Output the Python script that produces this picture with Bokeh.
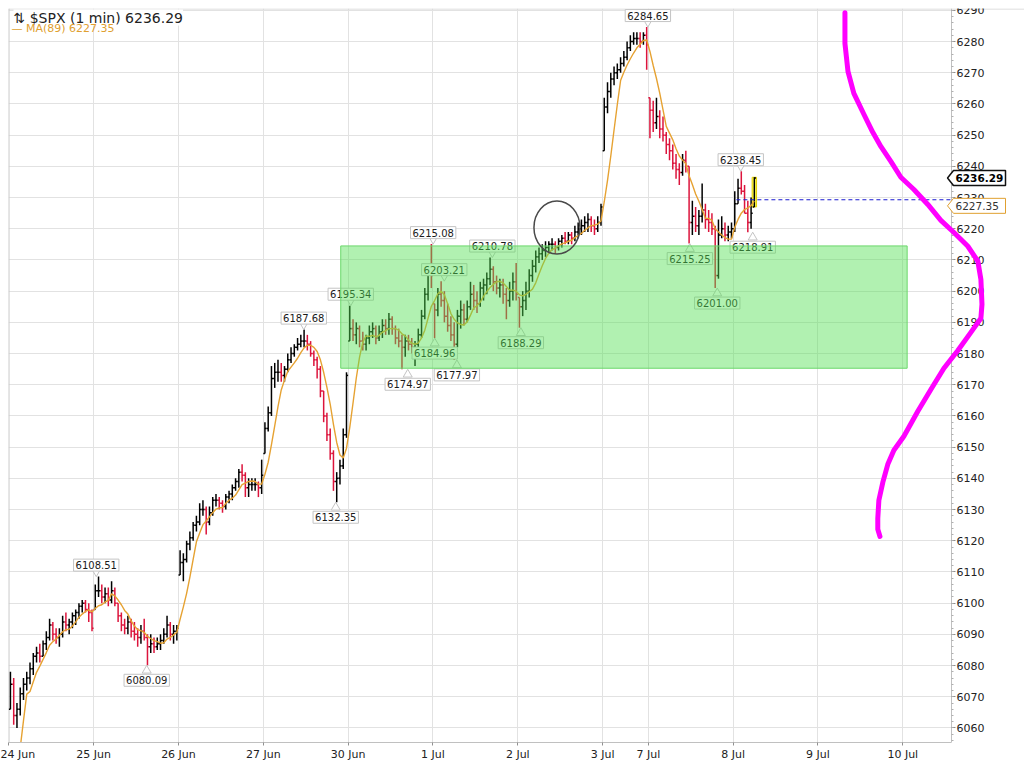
import numpy as np
import pandas as pd
from bokeh.plotting import figure
from bokeh.models import FixedTicker, SingleIntervalTicker, Label, PolyAnnotation, Range1d, LinearAxis
from bokeh.core.properties import value
from bokeh.embed import file_html
from bokeh.resources import INLINE

# ------------------------------------------------------------------ data
days = ["24 Jun", "25 Jun", "26 Jun", "27 Jun", "30 Jun", "1 Jul", "2 Jul",
        "3 Jul", "7 Jul", "8 Jul", "9 Jul", "10 Jul"]
session_minutes = [390, 390, 390, 390, 390, 390, 390, 210, 390, 390, 390, 390]
bars_per_day = [26, 26, 26, 26, 26, 26, 26, 14, 26, 7]
bar_minutes = 15

high = [
    # 24 Jun
    6078, 6076, 6068, 6073, 6076, 6078, 6081, 6084, 6086, 6087, 6088, 6091, 6095, 6094, 6092, 6092, 6096, 6097, 6095, 6097, 6098, 6100, 6101, 6101, 6100, 6098,
    # 25 Jun
    6106, 6108.51, 6106, 6105, 6105, 6107, 6105, 6100, 6097, 6095, 6096, 6095, 6094, 6092, 6093, 6095, 6090, 6090, 6089, 6089, 6090, 6092, 6096, 6094, 6093, 6093,
    # 26 Jun
    6117, 6116, 6120, 6123, 6126, 6128, 6132, 6133, 6131, 6131, 6134, 6135, 6134, 6133, 6135, 6136, 6138, 6140, 6143, 6144.5, 6142, 6140, 6140, 6140, 6139, 6146,
    # 27 Jun
    6158, 6163, 6176, 6177, 6178, 6177, 6176, 6180, 6182, 6183, 6185, 6186, 6187.68, 6186, 6184, 6181, 6179, 6176, 6168, 6161, 6156, 6149, 6142, 6146, 6156, 6174,
    # 30 Jun
    6195.34, 6191, 6190, 6189, 6187, 6186, 6189, 6190, 6189, 6189, 6191, 6191, 6193, 6192, 6189, 6188, 6186, 6186, 6186, 6185, 6184, 6188, 6194, 6201, 6208, 6215.08,
    # 1 Jul
    6196, 6201, 6203.21, 6200, 6196, 6192, 6190, 6194, 6197, 6196, 6197, 6203, 6202, 6200, 6203, 6204, 6206, 6210.78, 6208, 6205, 6204, 6204, 6201, 6203, 6206, 6209,
    # 2 Jul
    6198, 6200, 6203, 6207, 6210, 6213, 6214, 6215, 6216, 6216, 6217, 6216, 6217, 6218, 6219, 6219, 6219, 6221, 6222, 6223, 6224, 6225, 6224, 6223, 6224, 6228,
    # 3 Jul
    6262, 6267, 6270, 6272, 6273, 6275, 6277, 6280, 6282, 6283, 6283, 6283, 6283, 6284.65,
    # 7 Jul
    6262, 6261, 6262, 6258, 6256, 6251, 6249, 6247, 6244, 6241, 6244, 6245, 6240, 6229, 6227, 6226, 6234.5, 6228, 6226, 6225, 6221, 6223, 6224, 6222, 6221, 6222,
    # 8 Jul
    6232, 6236, 6238.45, 6234, 6229, 6230, 6236.5,
]
low = [
    # 24 Jun
    6066, 6061, 6060, 6064, 6069, 6072, 6074, 6077, 6081, 6081, 6083, 6085, 6088, 6088, 6087, 6086, 6089, 6091, 6090, 6092, 6093, 6095, 6097, 6097, 6094, 6091,
    # 25 Jun
    6098, 6102, 6100, 6100, 6099, 6100, 6099, 6094, 6091, 6090, 6090, 6089, 6088, 6086, 6087, 6088, 6080.09, 6084, 6084, 6085, 6085, 6087, 6089, 6088, 6087, 6088,
    # 26 Jun
    6109, 6107, 6113, 6117, 6120, 6123, 6125, 6128, 6122, 6125, 6128, 6131, 6130, 6129, 6130, 6132, 6133, 6136, 6137, 6139, 6134, 6134, 6136, 6136, 6134, 6135,
    # 27 Jun
    6148, 6155, 6160, 6169, 6171, 6171, 6171, 6174, 6177, 6179, 6181, 6182, 6182, 6181, 6179, 6176, 6172, 6166, 6158, 6152, 6146, 6136, 6132.35, 6138, 6143, 6153,
    # 30 Jun
    6184, 6184, 6183, 6182, 6181, 6181, 6183, 6185, 6183, 6184, 6185, 6186, 6186, 6186, 6183, 6182, 6174.97, 6179, 6181, 6180, 6176, 6182, 6185, 6191, 6197, 6201,
    # 1 Jul
    6184.96, 6192, 6195, 6190, 6187, 6184, 6177.97, 6182, 6188, 6189, 6190, 6194, 6194, 6193, 6195, 6197, 6199, 6202, 6200, 6199, 6198, 6196, 6191, 6195, 6197, 6197,
    # 2 Jul
    6188.29, 6192, 6194, 6198, 6203, 6206, 6209, 6210, 6211, 6212, 6213, 6212, 6213, 6214, 6215, 6215, 6215, 6216, 6217, 6218, 6219, 6219, 6219, 6218, 6219, 6221,
    # 3 Jul
    6245, 6257, 6262, 6266, 6268, 6270, 6272, 6274, 6277, 6279, 6279, 6278, 6279, 6271,
    # 7 Jul
    6249, 6251, 6252, 6249, 6248, 6244, 6242, 6239, 6236, 6234, 6237, 6238, 6215.25, 6218, 6219, 6218, 6222, 6220, 6219, 6218, 6201.00, 6204, 6217, 6216, 6216, 6217,
    # 8 Jul
    6219, 6228, 6231, 6225, 6218.91, 6220, 6227,
]
close = [
    # 24 Jun
    6074, 6064, 6066, 6071, 6074, 6076, 6079, 6083, 6084, 6083, 6087, 6089, 6093, 6090, 6089, 6090, 6094, 6093, 6094, 6096, 6097, 6099, 6100, 6098, 6097, 6092,
    # 25 Jun
    6104, 6104, 6102, 6103, 6101, 6104, 6100, 6096, 6093, 6092, 6094, 6091, 6090, 6089, 6091, 6089, 6086, 6087, 6086, 6087, 6088, 6090, 6093, 6090, 6091, 6092,
    # 26 Jun
    6113, 6114, 6119, 6121, 6125, 6126, 6130, 6130, 6126, 6129, 6133, 6133, 6132, 6131, 6134, 6135, 6137, 6139, 6142, 6141, 6137, 6138, 6138, 6138, 6137, 6141,
    # 27 Jun
    6156, 6161, 6172, 6174, 6174, 6173, 6175, 6178, 6180, 6182, 6183, 6184, 6184, 6183, 6180, 6178, 6175, 6168, 6160, 6154, 6148, 6139, 6140, 6144, 6154, 6173,
    # 30 Jun
    6188, 6186, 6188, 6184, 6183, 6185, 6187, 6188, 6185, 6187, 6189, 6188, 6191, 6188, 6185, 6184, 6182, 6184, 6183, 6182, 6183, 6186, 6192, 6199, 6206, 6205,
    # 1 Jul
    6194, 6199, 6197, 6192, 6189, 6186, 6183, 6192, 6194, 6191, 6195, 6199, 6197, 6196, 6201, 6202, 6204, 6207, 6203, 6201, 6202, 6199, 6197, 6200, 6203, 6199,
    # 2 Jul
    6195, 6197, 6200, 6205, 6208, 6211, 6212, 6213, 6214, 6215, 6215, 6214, 6216, 6217, 6216, 6218, 6217, 6219, 6220, 6221, 6222, 6223, 6221, 6220, 6222, 6227,
    # 3 Jul
    6259, 6264, 6268, 6270, 6271, 6273, 6275, 6278, 6280, 6281, 6281, 6280, 6282, 6279,
    # 7 Jul
    6258, 6254, 6256, 6252, 6250, 6247, 6245, 6241, 6239, 6238, 6242, 6240, 6222, 6224, 6221, 6224, 6226, 6223, 6222, 6220, 6205, 6218, 6220, 6218, 6219, 6220,
    # 8 Jul
    6228, 6233, 6232, 6225, 6222, 6225, 6236.29,
]
# 23 Jun last 90 minutes (only used to warm up the moving average)
prev_session_close = [6008, 6012, 6015, 6019, 6022, 6025]
ma_bars = 6            # 6 x 15 min ~ MA(89) on 1-min data

last_price = 6236.29
ma_last = 6227.35

# swing high / low annotations
swing_val = [6108.51, 6080.09, 6187.68, 6132.35, 6195.34, 6174.97, 6215.08, 6184.96,
             6203.21, 6177.97, 6210.78, 6188.29, 6284.65, 6215.25, 6201.00, 6238.45, 6218.91]
swing_min = [402, 634, 1356, 1503, 1572, 1834, 1951, 1958,
             2002, 2060, 2223, 2354, 2938, 3131, 3257, 3365, 3420]
swing_side = [1, -1, 1, -1, 1, -1, 1, -1, 1, -1, 1, -1, 1, -1, -1, 1, -1]

# drawn objects
zone_left, zone_right, zone_top, zone_bottom = 1526, 4130, 6214.5, 6175.3
circle_min, circle_price = 2520, 6220.4
hline_price, hline_start = 6229.3, 3345
mag_min = [3844, 3844, 3858, 3885, 3931, 3972, 4009, 4055, 4101, 4161, 4225, 4285, 4345, 4409,
           4455, 4469, 4474, 4469, 4423, 4363, 4299, 4239, 4179, 4115, 4069, 4041, 4018, 4000,
           3995, 3995, 4005]
mag_price = [6289.2, 6279.4, 6270.4, 6263.4, 6256.7, 6250.9, 6246.4, 6241.6, 6236.5, 6232.6,
             6227.8, 6222.7, 6218.8, 6214.4, 6209.6, 6203.8, 6195.8, 6191.3, 6186.8, 6181.0,
             6175.3, 6168.5, 6161.5, 6153.5, 6149.0, 6144.5, 6138.7, 6133.0, 6127.2, 6123.7,
             6121.4]

# ------------------------------------------------------------------ layout
FRAME_W, FRAME_H = 1016, 734
AXIS_PX = 943             # position of the price axis inside the frame
PPX = 894 / 4110          # px per minute
PPU = 3.12                # px per index point
x0 = -1.4
x_end = x0 + FRAME_W / PPX
xa = x0 + AXIS_PX / PPX
y1 = 6290.6
y0 = y1 - FRAME_H / PPU

day_start = np.concatenate([[0], np.cumsum(session_minutes)[:-1]]).astype(int)
t = np.concatenate([day_start[d] + bar_minutes * (np.arange(n) + 0.5)
                    for d, n in enumerate(bars_per_day)])
hi = np.array(high, float)
lo = np.array(low, float)
cl = np.array(close, float)
prev = np.concatenate([[prev_session_close[-1]], cl[:-1]])
op = np.clip(prev, lo, hi)
cols = np.where(cl >= op, "#000000", "#dc143c")
ma = pd.Series(prev_session_close + close).rolling(ma_bars).mean().to_numpy()[len(prev_session_close):]

p = figure(frame_width=FRAME_W, frame_height=FRAME_H,
           x_range=Range1d(x0, x_end), y_range=Range1d(y0, y1),
           y_axis_location=None, toolbar_location=None, output_backend="svg",
           min_border_left=8, min_border_top=8, min_border_right=0, min_border_bottom=0,
           background_fill_color="white", border_fill_color="white")
p.outline_line_color = None

xt = FixedTicker(ticks=[int(v) for v in day_start])
p.xaxis.ticker = xt
p.xaxis.bounds = (x0, xa)
p.xaxis.major_label_overrides = {int(s): d for s, d in zip(day_start, days)}
p.xaxis.minor_tick_line_color = None
p.xaxis.major_tick_in = 0
p.xaxis.major_tick_out = 3
p.xaxis.major_label_standoff = 2
p.xaxis.axis_line_color = "#c0c0c0"
p.xaxis.major_tick_line_color = "#909090"
p.xaxis.major_label_text_font = "DejaVu Sans"
p.xaxis.major_label_text_font_size = "11px"
p.xaxis.major_label_text_color = "#222222"

yt = SingleIntervalTicker(interval=10, num_minor_ticks=5)
yax = LinearAxis(ticker=yt, fixed_location=xa)
yax.major_tick_in = 0
yax.major_tick_out = 4
yax.minor_tick_in = 0
yax.minor_tick_out = 2
yax.major_label_standoff = 1
yax.axis_line_color = "#c0c0c0"
yax.major_tick_line_color = "#909090"
yax.minor_tick_line_color = "#b0b0b0"
yax.major_label_text_font = "DejaVu Sans"
yax.major_label_text_font_size = "11px"
yax.major_label_text_color = "#222222"
p.add_layout(yax, "right")

p.xgrid.ticker = xt
p.ygrid.ticker = SingleIntervalTicker(interval=10)
p.xgrid.grid_line_color = "#e2e2e2"
p.ygrid.grid_line_color = "#e2e2e2"

# blank the axis strip (grid stops at the price axis) and draw the chart border
p.quad(left=[xa], right=[x_end], top=[y1], bottom=[y0], fill_color="white", line_color=None)
p.segment([x0], [y1 - 0.5 / PPU], [x_end], [y1 - 0.5 / PPU], color="#d4d4d4", line_width=1)
p.segment([x0 + 0.5 / PPX], [y0], [x0 + 0.5 / PPX], [y1], color="#c8c8c8", line_width=1)

# highlight of the last bar
tick = 1.6 / PPX
p.quad(left=[t[-1] - 2.2 / PPX], right=[t[-1] + 2.2 / PPX], top=[hi[-1]], bottom=[lo[-1]],
       fill_color="#ffff55", line_color="#e6d200")

# OHLC bars
p.segment(t, lo, t, hi, color=cols, line_width=1.5)
p.segment(t - tick, op, t, op, color=cols, line_width=1.5)
p.segment(t, cl, t + tick, cl, color=cols, line_width=1.5)

# moving average
p.line(t, ma, color="#e6a232", line_width=1.4)

# swing labels
sv = np.array(swing_val)
ss = np.array(swing_side)
sm = np.array(swing_min)
is_hi = ss > 0
p.scatter(sm[is_hi], sv[is_hi] + 4.6 / PPU, marker="inverted_triangle", size=8,
          fill_color="white", line_color="#c4c4c4")
p.scatter(sm[~is_hi], sv[~is_hi] - 5.2 / PPU, marker="triangle", size=9,
          fill_color="white", line_color="#c4c4c4")
lab_y = sv + np.where(is_hi, 11.5, -15.0) / PPU
p.text(x=swing_min, y=lab_y, text=[f"{v:.2f}" for v in swing_val],
       text_align="center", text_baseline="middle",
       text_font=value("DejaVu Sans"), text_font_size="10px", text_color="#1a1a1a",
       background_fill_color="white", border_line_color="#c4c4c4", border_line_width=1,
       padding=2)

# green zone
p.quad(left=[zone_left], right=[zone_right], top=[zone_top], bottom=[zone_bottom],
       fill_color="#52df52", fill_alpha=0.45, line_color="#6ad86a", line_width=1)

# hand drawn circle
p.ellipse(x=[circle_min], y=[circle_price], width=46, height=53,
          width_units="screen", height_units="screen",
          fill_alpha=0, line_color="#4a4a4a", line_width=1.5)

# dashed level line
p.line([hline_start, xa], [hline_price, hline_price], color="#1a1ad0", line_dash="4 3", line_width=1)

# magenta hand drawn profile
p.add_layout(PolyAnnotation(xs=mag_min + mag_min[::-1], ys=mag_price + mag_price[::-1],
                            fill_alpha=0, line_color="#ff00ff", line_alpha=1.0, line_width=5,
                            line_join="round"))

# price tags on the right axis
def tag(price, txt, border, bold, txtcol, bw):
    xs = [xa - 4 / PPX, xa + 2 / PPX, xa + 54 / PPX, xa + 54 / PPX, xa + 2 / PPX]
    ys = [price, price + 7.5 / PPU, price + 7.5 / PPU, price - 7.5 / PPU, price - 7.5 / PPU]
    p.add_layout(PolyAnnotation(xs=xs, ys=ys, fill_color="white", fill_alpha=1,
                                line_color=border, line_alpha=1.0, line_width=bw))
    p.add_layout(Label(x=xa + 4 / PPX, y=price, text=txt, text_align="left",
                       text_baseline="middle", text_font="DejaVu Sans",
                       text_font_size="10.5px", text_font_style="bold" if bold else "normal",
                       text_color=txtcol))

tag(last_price, f"{last_price:.2f}", "#111111", True, "#000000", 1.5)
tag(ma_last, f"{ma_last:.2f}", "#e0a030", False, "#333333", 1)

# title / legend
p.add_layout(Label(x=x0 + 5 / PPX, y=y1 - 1 / PPU, text=f"\u21c5 $SPX (1 min) {last_price:.2f}",
                   text_baseline="top", text_font="DejaVu Sans", text_font_size="14px",
                   text_color="#222222", background_fill_color="white"))
p.add_layout(Label(x=x0 + 3 / PPX, y=y1 - 20 / PPU, text=f"\u2014 MA(89) {ma_last:.2f}",
                   text_baseline="middle", text_font="DejaVu Sans", text_font_size="11px",
                   text_color="#e0a030"))

open("out.html", "w").write(file_html(p, INLINE))
